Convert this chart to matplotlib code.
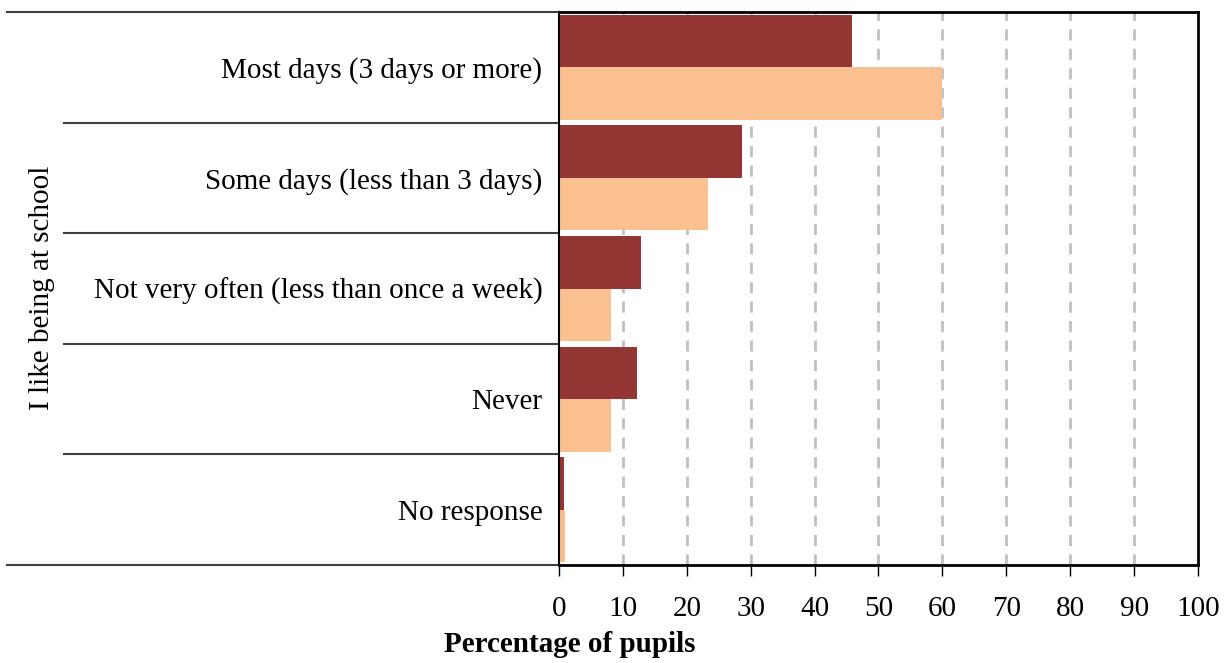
import numpy as np
import matplotlib.pyplot as plt

categories = ['Most days (3 days or more)', 'Some days (less than 3 days)',
              'Not very often (less than once a week)', 'Never', 'No response']
series_dark = [45.8, 28.6, 12.8, 12.2, 0.8]
series_light = [60.0, 23.3, 8.1, 8.1, 0.9]
xticks = list(range(0, 101, 10))

plt.rcParams['font.family'] = ['Liberation Serif', 'DejaVu Serif']

fig = plt.figure(figsize=(12.29, 6.63), dpi=100)
ax = fig.add_axes([0.4548, 0.1478, 0.52, 0.8341])

pos = np.arange(len(categories))
h = 0.475
ax.barh(pos - h / 2, series_dark, height=h, color='#943634', zorder=2)
ax.barh(pos + h / 2, series_light, height=h, color='#FAC090', zorder=2)

ax.set_xlim(0, 100)
ax.set_ylim(len(categories) - 0.5, -0.5)
ax.set_xticks(xticks)
ax.set_xticklabels([str(t) for t in xticks], fontsize=21)
ax.tick_params(axis='x', direction='out', length=8, width=1, pad=14)
ax.set_yticks(pos)
ax.set_yticklabels(categories, fontsize=21)
ax.tick_params(axis='y', length=0, pad=12)

for t in xticks[1:-1]:
    ax.axvline(t, color='#c0c0c0', lw=2, ls=(0, (4, 3)), zorder=1)

for s in ax.spines.values():
    s.set_linewidth(2)
    s.set_color('black')
    s.set_zorder(4)
ax.spines['left'].set_linewidth(1.5)

# separator lines to the left of the plot
for i in range(len(categories) + 1):
    y = i - 0.5
    xmin = -0.864 if i in (0, len(categories)) else -0.775
    ax.axhline(y, xmin=xmin, xmax=0, color='#404040', lw=1.5, clip_on=False)

fig.text(42 / 1229, 1 - 288 / 663, 'I like being at school', rotation=90,
         ha='center', va='center', fontsize=21)
fig.text(570 / 1229, 1 - 645 / 663, 'Percentage of pupils', ha='center',
         va='center', fontsize=21, fontweight='bold')

fig.savefig('out.png', dpi=100)
